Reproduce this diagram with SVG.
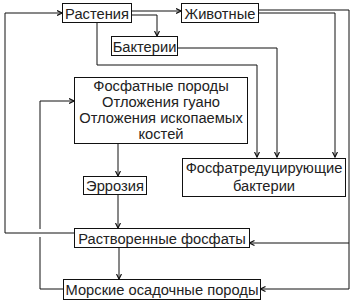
<svg xmlns="http://www.w3.org/2000/svg" width="356" height="307" viewBox="0 0 356 307">
<defs>
<marker id="arr" viewBox="0 0 6 6" refX="5.5" refY="3" markerWidth="6" markerHeight="6" markerUnits="userSpaceOnUse" orient="auto">
<path d="M0.5,0.5 L5.5,3 L0.5,5.5" fill="none" stroke="#111" stroke-width="1.2"/>
</marker>
<style>
.box{fill:#fff;stroke:#111;stroke-width:1}
.t{font-family:"Liberation Sans",Arial,sans-serif;font-size:14.7px;fill:#222;text-anchor:middle}
.c{fill:none;stroke:#111;stroke-width:1}
.a{marker-end:url(#arr)}
</style>
</defs>
<rect width="356" height="307" fill="#fff"/>
<g id="connectors">
<path class="c a" d="M131.5,11 H181"/>
<path class="c a" d="M131.5,15 H157 V36"/>
<path class="c a" d="M97,22 V65 H257 V157"/>
<path class="c a" d="M178,48 H277 V157"/>
<path class="c a" d="M258,13 H335 V157"/>
<path class="c a" d="M258,10 H349 V289 H260.5"/>
<path class="c a" d="M349,243 H249.5"/>
<path class="c a" d="M118,143 V176"/>
<path class="c a" d="M118,194 V228"/>
<path class="c a" d="M119,247 V279"/>
<path class="c a" d="M74,233 H5 V13 H62"/>
<path class="c" d="M63,289 H40 V237"/>
<path class="c a" d="M40,229 V101 H74"/>
</g>
<g id="rastenia"><rect class="box" x="62.5" y="3.5" width="69" height="19"/><text class="t" x="97" y="18.5">Растения</text></g>
<g id="zhivotnye"><rect class="box" x="181.5" y="3.5" width="77" height="19"/><text class="t" x="220" y="18.5">Животные</text></g>
<g id="bakterii"><rect class="box" x="111.5" y="36.5" width="66" height="19"/><text class="t" x="144.5" y="51.5">Бактерии</text></g>
<g id="fosfatnye"><rect class="box" x="74.5" y="77.5" width="173" height="66"/>
<text class="t" x="161" y="91">Фосфатные породы</text>
<text class="t" x="161" y="107">Отложения гуано</text>
<text class="t" x="161" y="123">Отложения ископаемых</text>
<text class="t" x="161" y="139">костей</text></g>
<g id="fosfatred"><rect class="box" x="182.5" y="158.5" width="163" height="38"/>
<text class="t" x="264" y="173">Фосфатредуцирующие</text>
<text class="t" x="264" y="191">бактерии</text></g>
<g id="errozia"><rect class="box" x="83.5" y="176.5" width="63" height="18"/><text class="t" x="115" y="190.5">Эррозия</text></g>
<g id="rastvorennye"><rect class="box" x="74.5" y="228.5" width="175" height="19"/><text class="t" x="162" y="243.5">Растворенные фосфаты</text></g>
<g id="morskie"><rect class="box" x="63.5" y="279.5" width="197" height="20"/><text class="t" x="162" y="295">Морские осадочные породы</text></g>
</svg>
